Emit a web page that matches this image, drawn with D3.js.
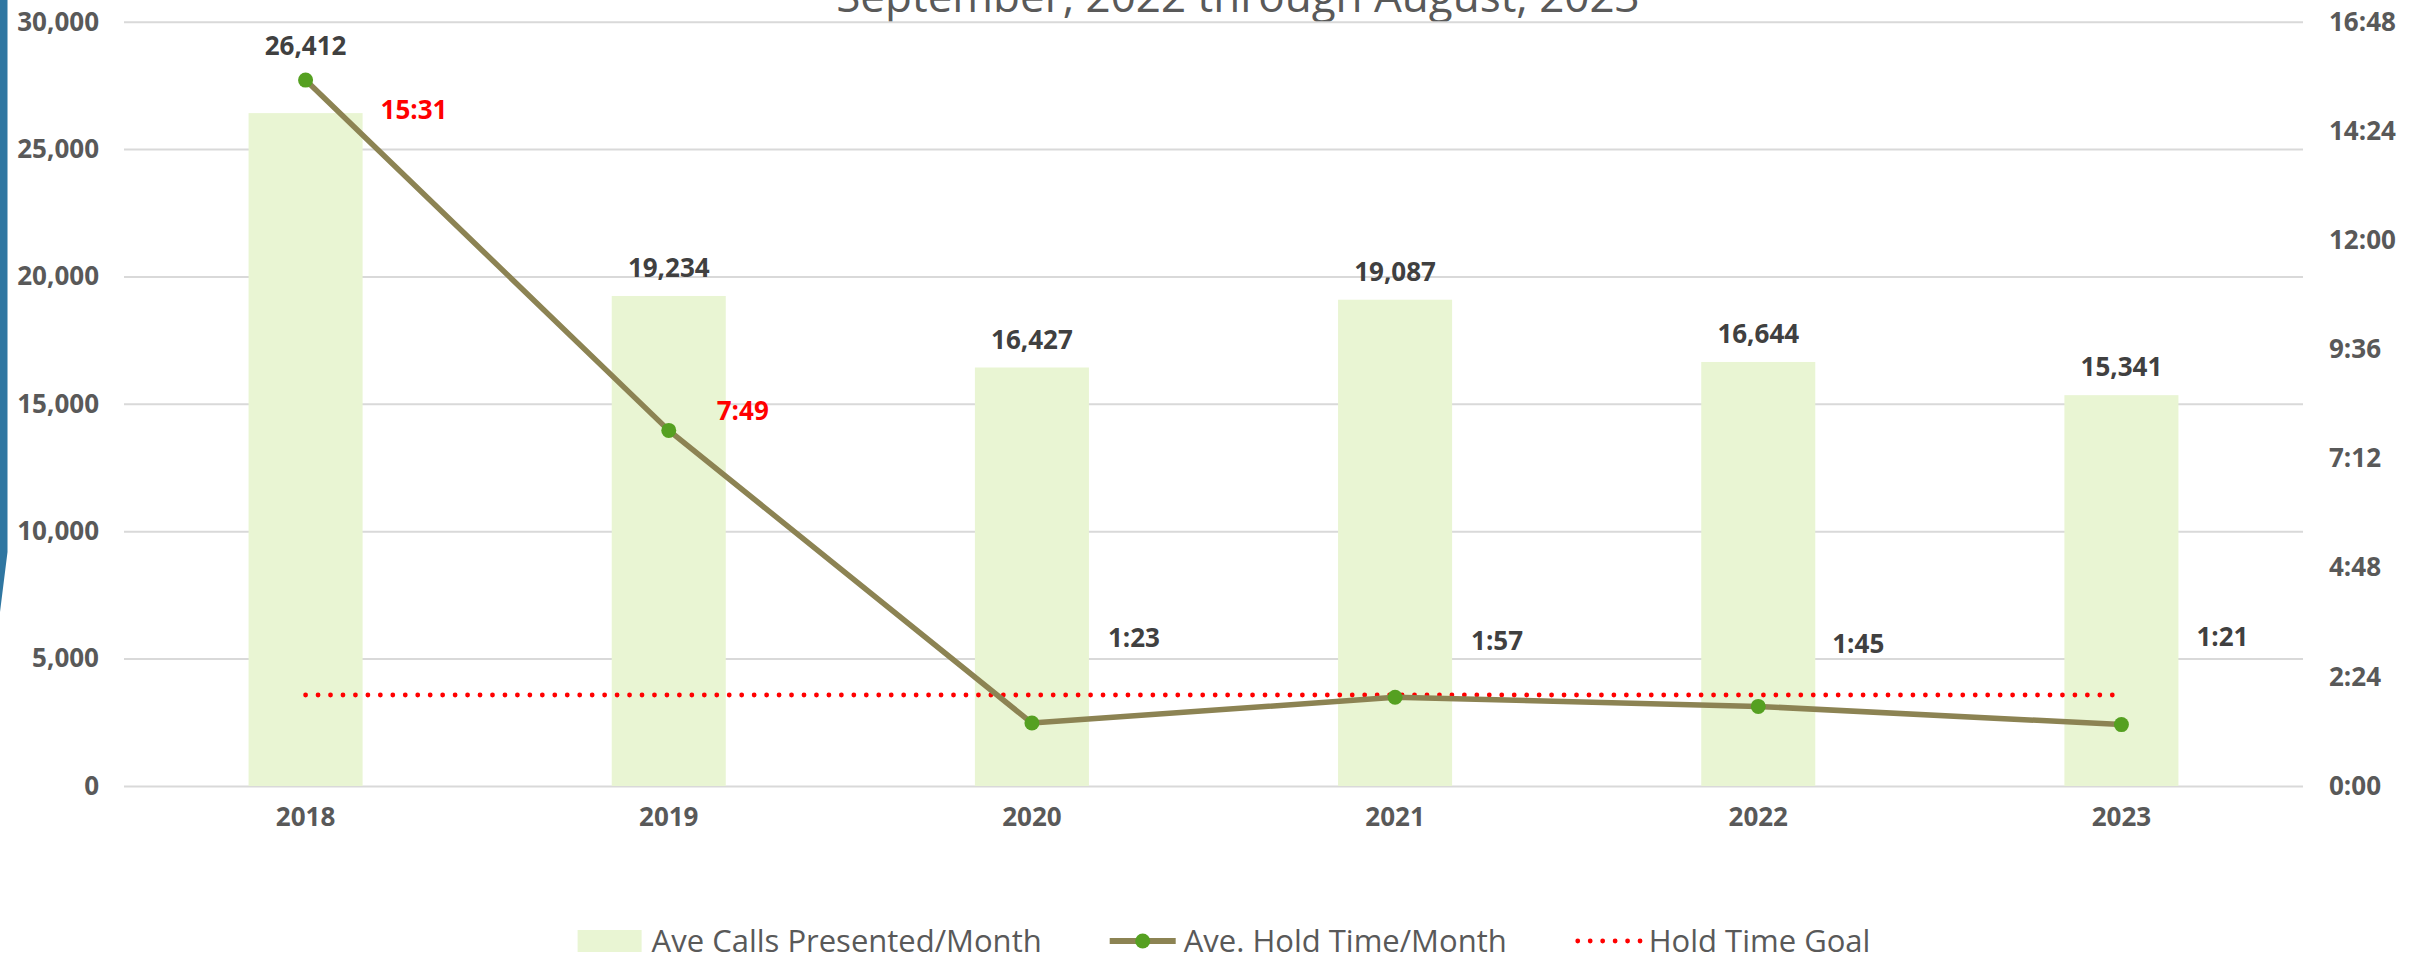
<!DOCTYPE html>
<html>
<head>
<meta charset="utf-8">
<script src="https://cdn.jsdelivr.net/npm/d3@7"></script>
<style>
	body { margin: 0; background: #fff; }
	svg { display: block; font-family: "Open Sans", sans-serif; }
</style>
</head>
<body>
<div id="chart"></div>
<script>
// data
var years = ['2018', '2019', '2020', '2021', '2022', '2023'];
var callsPresented = [26412, 19234, 16427, 19087, 16644, 15341];
var holdTimeSec = [931, 469, 83, 117, 105, 81]; // 15:31, 7:49, 1:23, 1:57, 1:45, 1:21
var holdGoalSec = 120; // 2:00
var callTicks = [0, 5000, 10000, 15000, 20000, 25000, 30000];
var timeTicks = [0, 144, 288, 432, 576, 720, 864, 1008];
var titleText = 'September, 2022 through August, 2023';
var legendLabels = ['Ave Calls Presented/Month', 'Ave. Hold Time/Month', 'Hold Time Goal'];

var width = 2428;
var height = 957;
var plotLeft = 124, plotRight = 2303, plotTop = 21.7, plotBottom = 786;

var barColor = '#E9F5D3';
var lineColor = '#8C8353';
var markerColor = '#55A021';
var goalColor = '#FF0000';
var axisText = '#595959';
var labelText = '#404040';
var gridColor = '#D9D9D9';

function fmtTime(s){
	var m = Math.floor(s / 60);
	var sec = Math.round(s - m * 60);
	return m + ':' + (sec < 10 ? '0' : '') + sec;
}

var svg = d3.select('#chart')
	.append('svg')
	.attr('width', width)
	.attr('height', height);

// slide decoration on the left edge
svg.append('path')
	.attr('d', 'M0,0 L7.5,0 L7.5,552 L0,612 Z')
	.attr('fill', '#2F76A1');

// title (cut off by the top of the picture)
svg.append('text')
	.attr('x', 1238)
	.attr('y', 12)
	.attr('text-anchor', 'middle')
	.style('font-size', '44px')
	.style('fill', axisText)
	.text(titleText);

var x = d3.scaleBand()
	.domain(years)
	.range([plotLeft, plotRight])
	.paddingInner(0.686)
	.paddingOuter(0.343);

var yCalls = d3.scaleLinear()
	.domain([0, 30000])
	.range([plotBottom, plotTop]);

var yTime = d3.scaleLinear()
	.domain([0, 1008])
	.range([plotBottom, plotTop]);

function styleAxis(g){
	g.attr('font-family', null).attr('font-size', null);
	g.select('.domain').remove();
	g.selectAll('text')
		.style('font-size', '26px')
		.style('font-weight', 700)
		.style('fill', axisText);
}

// left axis + gridlines
var leftAxis = svg.append('g')
	.attr('transform', 'translate(' + plotLeft + ',0)')
	.call(d3.axisLeft(yCalls)
		.tickValues(callTicks)
		.tickFormat(d3.format(','))
		.tickSize(-(plotRight - plotLeft))
		.tickPadding(25));
styleAxis(leftAxis);
leftAxis.selectAll('line')
	.attr('stroke', gridColor)
	.attr('stroke-width', 2);

// right axis
var rightAxis = svg.append('g')
	.attr('transform', 'translate(' + plotRight + ',0)')
	.call(d3.axisRight(yTime)
		.tickValues(timeTicks)
		.tickFormat(fmtTime)
		.tickSize(0)
		.tickPadding(26));
styleAxis(rightAxis);

// bars
svg.selectAll('.bar')
	.data(callsPresented)
	.enter()
	.append('rect')
	.attr('class', 'bar')
	.attr('x', function(d, i){ return x(years[i]); })
	.attr('y', function(d){ return yCalls(d); })
	.attr('width', x.bandwidth())
	.attr('height', function(d){ return plotBottom - yCalls(d); })
	.attr('fill', barColor);

// x axis labels
var bottomAxis = svg.append('g')
	.attr('transform', 'translate(0,' + plotBottom + ')')
	.call(d3.axisBottom(x).tickSize(0).tickPadding(22));
styleAxis(bottomAxis);

function cx(i){ return x(years[i]) + x.bandwidth() / 2; }

// goal line
svg.append('line')
	.attr('x1', cx(0))
	.attr('x2', cx(years.length - 1))
	.attr('y1', yTime(holdGoalSec))
	.attr('y2', yTime(holdGoalSec))
	.attr('stroke', goalColor)
	.attr('stroke-width', 4.8)
	.attr('stroke-linecap', 'round')
	.attr('stroke-dasharray', '0.01 12.45');

// hold time line
var line = d3.line()
	.x(function(d, i){ return cx(i); })
	.y(function(d){ return yTime(d); });

svg.append('path')
	.datum(holdTimeSec)
	.attr('d', line)
	.attr('fill', 'none')
	.attr('stroke', lineColor)
	.attr('stroke-width', 5.5)
	.attr('stroke-linejoin', 'round');

svg.selectAll('.marker')
	.data(holdTimeSec)
	.enter()
	.append('circle')
	.attr('class', 'marker')
	.attr('cx', function(d, i){ return cx(i); })
	.attr('cy', function(d){ return yTime(d); })
	.attr('r', 7.5)
	.attr('fill', markerColor);

// bar value labels, pushed up when they would hit a marker
svg.selectAll('.barLabel')
	.data(callsPresented)
	.enter()
	.append('text')
	.attr('class', 'barLabel')
	.attr('x', function(d, i){ return cx(i); })
	.attr('y', function(d, i){
		return Math.min(yCalls(d) - 28, yTime(holdTimeSec[i]) - 34);
	})
	.attr('dy', '0.35em')
	.attr('text-anchor', 'middle')
	.style('font-size', '26px')
	.style('font-weight', 700)
	.style('fill', labelText)
	.text(function(d){ return d3.format(',')(d); });

// hold time labels (dragged by hand in the original)
var holdLabelDx = [75, 48, 76, 76, 74, 75];
var holdLabelDy = [30, -19, -85, -56, -62, -88];

svg.selectAll('.holdLabel')
	.data(holdTimeSec)
	.enter()
	.append('text')
	.attr('class', 'holdLabel')
	.attr('x', function(d, i){ return cx(i) + holdLabelDx[i]; })
	.attr('y', function(d, i){ return yTime(d) + holdLabelDy[i]; })
	.attr('dy', '0.35em')
	.style('font-size', '26px')
	.style('font-weight', 700)
	.style('fill', function(d){ return d > holdGoalSec ? goalColor : labelText; })
	.text(fmtTime);

// legend
var legendY = 941;
var symbolW = 66, symbolGap = 8, itemGap = 68;
var legend = svg.append('g').attr('class', 'legend');
var items = legend.selectAll('.item')
	.data(legendLabels)
	.enter()
	.append('g')
	.attr('class', 'item');

items.append('text')
	.attr('x', symbolW + symbolGap)
	.attr('y', legendY)
	.attr('dy', '0.35em')
	.style('font-size', '31px')
	.style('fill', axisText)
	.text(function(d){ return d; });

var widths = [];
items.each(function(){
	widths.push(symbolW + symbolGap + d3.select(this).select('text').node().getComputedTextLength());
});
var total = d3.sum(widths) + itemGap * (widths.length - 1);
var start = 1224 - total / 2;
items.attr('transform', function(d, i){
	var off = start + d3.sum(widths.slice(0, i)) + itemGap * i;
	return 'translate(' + off + ',0)';
});

var it0 = d3.select(items.nodes()[0]);
it0.append('rect')
	.attr('x', 0)
	.attr('y', legendY - 11)
	.attr('width', 64)
	.attr('height', 22)
	.attr('fill', barColor);

var it1 = d3.select(items.nodes()[1]);
it1.append('line')
	.attr('x1', 0).attr('x2', symbolW)
	.attr('y1', legendY).attr('y2', legendY)
	.attr('stroke', lineColor)
	.attr('stroke-width', 6);
it1.append('circle')
	.attr('cx', symbolW / 2)
	.attr('cy', legendY)
	.attr('r', 7.5)
	.attr('fill', markerColor);

var it2 = d3.select(items.nodes()[2]);
it2.append('line')
	.attr('x1', 3).attr('x2', symbolW)
	.attr('y1', legendY).attr('y2', legendY)
	.attr('stroke', goalColor)
	.attr('stroke-width', 4.8)
	.attr('stroke-linecap', 'round')
	.attr('stroke-dasharray', '0.01 12.45');
</script>
</body>
</html>
